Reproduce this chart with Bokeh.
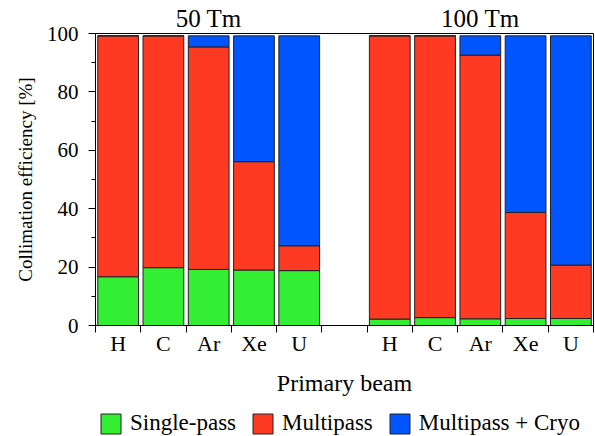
from bokeh.plotting import figure
from bokeh.layouts import column
from bokeh.models import ColumnDataSource, FixedTicker, LinearAxis, Range1d, Legend, LegendItem
from bokeh.embed import file_html
from bokeh.resources import INLINE

beams = ["H", "C", "Ar", "Xe", "U"]
groups = ["50 Tm", "100 Tm"]
series = ["Single-pass", "Multipass", "Multipass + Cryo"]
# cumulative levels [%]
single_pass_50 = [16.7, 19.8, 19.2, 19.0, 18.8]
multipass_50 = [99.2, 99.2, 95.4, 56.1, 27.3]
cryo_50 = [99.2, 99.2, 99.2, 99.2, 99.2]
single_pass_100 = [2.2, 2.7, 2.3, 2.4, 2.4]
multipass_100 = [99.2, 99.2, 92.6, 38.7, 20.7]
cryo_100 = [99.2, 99.2, 99.2, 99.2, 99.2]

FONT = "Liberation Serif"
GREEN, RED, BLUE = "#33ee33", "#ff3a22", "#0055ff"
EDGE = "#222222"

xs, sp, mp, cr, labels = [], [], [], [], {}
for g, (s, m, c) in enumerate([(single_pass_50, multipass_50, cryo_50),
                               (single_pass_100, multipass_100, cryo_100)]):
    for i, b in enumerate(beams):
        x = 6 * g + i + 0.5
        xs.append(x)
        sp.append(s[i]); mp.append(m[i]); cr.append(c[i])
        labels[x] = b

src = ColumnDataSource(dict(x=xs, sp=sp, mp=mp, cr=cr, zero=[0] * len(xs)))

p = figure(width=595, height=398, output_backend="svg", toolbar_location=None,
           x_range=Range1d(0, 11), y_range=Range1d(0, 100),
           min_border_left=95, min_border_right=2, min_border_top=33, min_border_bottom=72)
p.background_fill_color = "white"
p.border_fill_color = "white"
p.outline_line_color = "black"
p.outline_line_width = 1
p.grid.visible = False

kw = dict(width=0.9, line_color=EDGE, line_width=1)
r1 = p.vbar(x="x", bottom="zero", top="sp", source=src, fill_color=GREEN, **kw)
r2 = p.vbar(x="x", bottom="sp", top="mp", source=src, fill_color=RED, **kw)
r3 = p.vbar(x="x", bottom="mp", top="cr", source=src, fill_color=BLUE, **kw)

# y axis
ya = p.yaxis[0]
ya.ticker = FixedTicker(ticks=[0, 20, 40, 60, 80, 100], minor_ticks=[10, 30, 50, 70, 90])
ya.axis_label = "Collimation efficiency [%]"
ya.axis_label_text_font = FONT
ya.axis_label_text_font_style = "normal"
ya.axis_label_text_font_size = "19px"
ya.axis_label_text_color = "black"
ya.axis_label_standoff = 8
ya.major_label_text_font = FONT
ya.major_label_text_font_size = "21px"
ya.major_label_text_color = "black"
ya.major_label_standoff = 10
ya.major_tick_out = 7
ya.major_tick_in = 0
ya.minor_tick_out = 4
ya.minor_tick_in = 0
ya.axis_line_color = "black"
ya.major_tick_line_color = "black"
ya.minor_tick_line_color = "black"

# x axis
xa = p.xaxis[0]
bounds = list(range(0, 12))
xa.ticker = FixedTicker(ticks=xs, minor_ticks=bounds)
xa.major_label_overrides = labels
xa.major_tick_out = 0
xa.major_tick_in = 0
xa.minor_tick_out = 7
xa.minor_tick_in = 0
xa.minor_tick_line_color = "black"
xa.axis_line_color = "black"
xa.major_label_standoff = -2
xa.axis_label = "Primary beam"
xa.axis_label_text_font = FONT
xa.axis_label_text_font_style = "normal"
xa.axis_label_text_font_size = "24px"
xa.axis_label_text_color = "black"
xa.axis_label_standoff = 11
xa.major_label_text_font = FONT
xa.major_label_text_font_size = "22px"
xa.major_label_text_color = "black"

# top group labels
top = LinearAxis(ticker=FixedTicker(ticks=[2.5, 8.5], minor_ticks=[]),
                 major_label_overrides={2.5: groups[0], 8.5: groups[1]})
top.major_tick_out = 0
top.major_tick_in = 0
top.major_label_standoff = 2
top.major_label_text_font = FONT
top.major_label_text_font_size = "25px"
top.major_label_text_color = "black"
top.axis_line_color = None
p.add_layout(top, "above")

# legend in its own strip below the chart (its frame is aligned with the chart's)
lf = figure(width=595, height=38, output_backend="svg", toolbar_location=None,
            x_range=Range1d(0, 1), y_range=Range1d(0, 1),
            x_axis_type=None, y_axis_type=None,
            min_border_left=0, min_border_right=0, min_border_top=0, min_border_bottom=0)
lf.outline_line_color = None
lf.grid.visible = False
lf.background_fill_color = "white"
lf.border_fill_color = "white"
# off-range dummy bars, only there to give the legend its swatches
lr = [lf.vbar(x=[-5], top=[-5], bottom=[-6], width=0.1, fill_color=c, line_color=EDGE)
      for c in (GREEN, RED, BLUE)]
legend = Legend(items=[LegendItem(label=series[k], renderers=[lr[k]]) for k in range(3)],
                orientation="horizontal", location=(3, 0),
                glyph_width=25, glyph_height=25, label_text_font=FONT,
                label_text_font_size="23px", label_text_color="black",
                border_line_color=None, background_fill_alpha=0,
                spacing=14, padding=2, margin=0, label_standoff=7)
lf.add_layout(legend, "center")

open("out.html", "w").write(file_html(column(p, lf, spacing=0), INLINE))
